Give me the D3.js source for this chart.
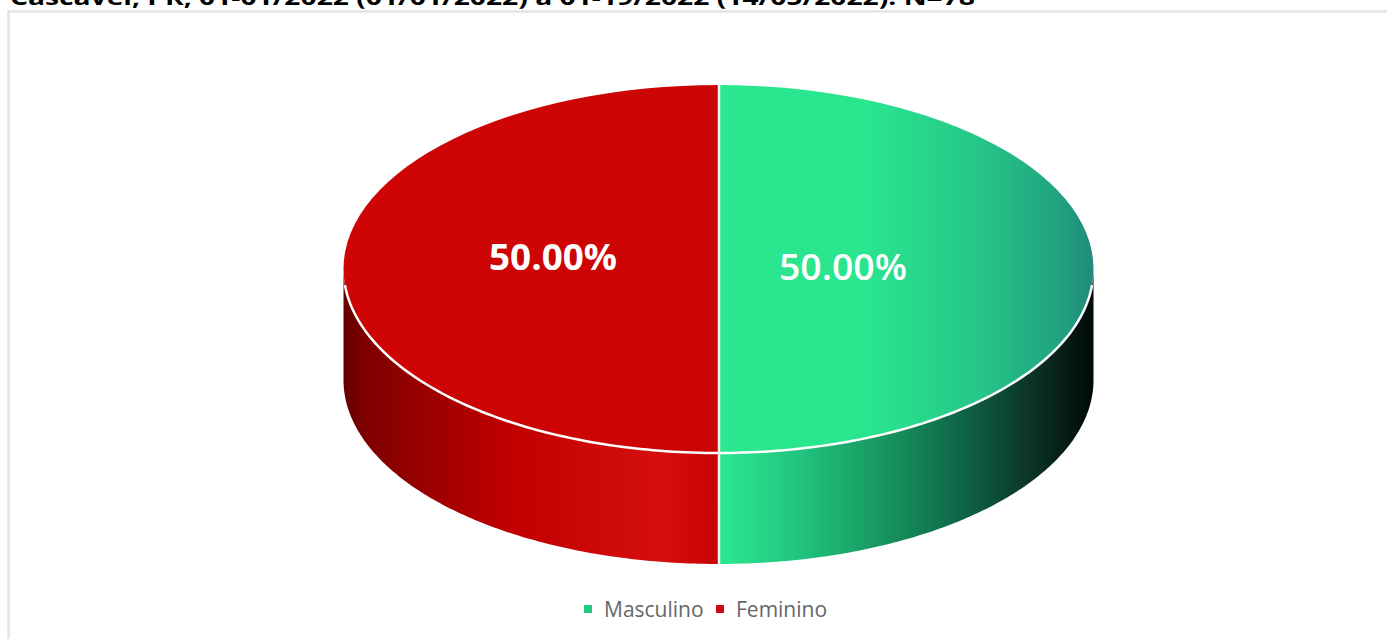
<!DOCTYPE html>
<html>
<head>
<meta charset="utf-8">
<script src="https://cdn.jsdelivr.net/npm/d3@7/dist/d3.min.js"></script>
<style>
  html, body { margin: 0; padding: 0; background: #fff; overflow: hidden; }
  svg { display: block; }
  text { font-family: "Open Sans", sans-serif; }
</style>
</head>
<body>
<script>
const titleText = 'Cascavel, PR, 01-01/2022 (01/01/2022) a 01-19/2022 (14/05/2022). N=78';
const categories = ['Masculino', 'Feminino'];
const values = [50, 50];
const legendColors = ['#22c983', '#cf0a0a'];

const width = 1387, height = 639;
const cx = 718.5, cy = 269, rx = 375, ry = 184, depth = 111;

const svg = d3.select('body').append('svg')
  .attr('width', width)
  .attr('height', height);

const defs = svg.append('defs');

function gradient(id, x1, x2, stops) {
  const g = defs.append('linearGradient')
    .attr('id', id)
    .attr('gradientUnits', 'userSpaceOnUse')
    .attr('x1', x1).attr('x2', x2)
    .attr('y1', 0).attr('y2', 0);
  g.selectAll('stop').data(stops).join('stop')
    .attr('offset', d => d[0])
    .attr('stop-color', d => d[1]);
}

// top face gradients are in the slice's own coordinates, centred on 0
gradient('topGreen', 0, rx, [[0, '#2ae88f'], [0.4, '#29e58e'], [0.7, '#25c588'], [0.9, '#21a480'], [1, '#208a7c']]);
gradient('topRed', -rx, 0, [[0, '#cf0505'], [1, '#cb0404']]);
gradient('wallGreen', cx, cx + rx, [[0, '#2ae88f'], [0.2, '#22c780'], [0.42, '#189a62'], [0.66, '#0f6246'], [0.85, '#0a2f25'], [1, '#010808']]);
gradient('wallRed', cx - rx, cx, [[0, '#650000'], [0.06, '#7e0000'], [0.2, '#970000'], [0.45, '#c20000'], [0.85, '#d50f0f'], [1, '#c70202']]);

// frame
svg.append('path')
  .attr('d', `M8.5,${height}V11.5H${width}`)
  .attr('fill', 'none')
  .attr('stroke', '#e4e4e4')
  .attr('stroke-width', 2.5);

// title, cut by the top of the window as in the source
svg.append('text')
  .attr('x', 10)
  .attr('y', 4.5)
  .attr('font-size', 22)
  .attr('font-weight', 700)
  .attr('fill', '#000')
  .attr('textLength', 965)
  .attr('lengthAdjust', 'spacingAndGlyphs')
  .text(titleText);

const pie = d3.pie().sort(null);
const slices = pie(values);

const rim = a => [cx + rx * Math.sin(a), cy - ry * Math.cos(a)];

// side wall: only the front half of each slice shows
const wallIds = ['wallGreen', 'wallRed'];
slices.forEach((s, i) => {
  const a0 = Math.max(s.startAngle, Math.PI / 2);
  const a1 = Math.min(s.endAngle, Math.PI * 1.5);
  const steps = d3.range(0, 121).map(k => a0 + (a1 - a0) * k / 120);
  const upper = steps.map(rim);
  const lower = steps.slice().reverse().map(a => {
    const p = rim(a);
    return [p[0], p[1] + depth];
  });
  svg.append('path')
    .attr('d', d3.line()(upper.concat(lower)) + 'Z')
    .attr('fill', `url(#${wallIds[i]})`);
});

// top face
const topIds = ['topGreen', 'topRed'];
const arc = d3.arc().innerRadius(0).outerRadius(rx);
svg.append('g')
  .attr('transform', `translate(${cx},${cy}) scale(1,${ry / rx})`)
  .selectAll('path')
  .data(slices)
  .join('path')
  .attr('d', arc)
  .attr('fill', (d, i) => `url(#${topIds[i]})`);

// white edge along the front of the top face
const edgeAngles = d3.range(0, 171).map(k => (Math.PI * (95 + k)) / 180);
svg.append('path')
  .attr('d', d3.line()(edgeAngles.map(rim)))
  .attr('fill', 'none')
  .attr('stroke', '#fff')
  .attr('stroke-width', 2.5);

// white seam between slices
svg.append('line')
  .attr('x1', cx + 0.5).attr('x2', cx + 0.5)
  .attr('y1', cy - ry).attr('y2', cy + ry + depth)
  .attr('stroke', '#f4f4f0')
  .attr('stroke-width', 2.5);

// data labels
const labelPos = [[843, 267], [553, 257]];
svg.append('g')
  .selectAll('text')
  .data(slices)
  .join('text')
  .attr('x', (d, i) => labelPos[i][0])
  .attr('y', (d, i) => labelPos[i][1])
  .attr('dy', '0.36em')
  .attr('text-anchor', 'middle')
  .attr('font-size', 36)
  .attr('font-weight', (d, i) => i === 0 ? 600 : 700)
  .attr('fill', '#fff')
  .attr('textLength', 128)
  .attr('lengthAdjust', 'spacingAndGlyphs')
  .text(d => d.value.toFixed(2) + '%');

// legend
const legendX = [584, 716];
const legend = svg.append('g')
  .selectAll('g')
  .data(categories)
  .join('g')
  .attr('transform', (d, i) => `translate(${legendX[i]},605)`);

legend.append('rect')
  .attr('width', 8).attr('height', 8)
  .attr('fill', (d, i) => legendColors[i]);

legend.append('text')
  .attr('x', 20)
  .attr('y', 4)
  .attr('dy', '0.36em')
  .attr('font-size', 21)
  .attr('fill', '#666')
  .text(d => d);
</script>
</body>
</html>
